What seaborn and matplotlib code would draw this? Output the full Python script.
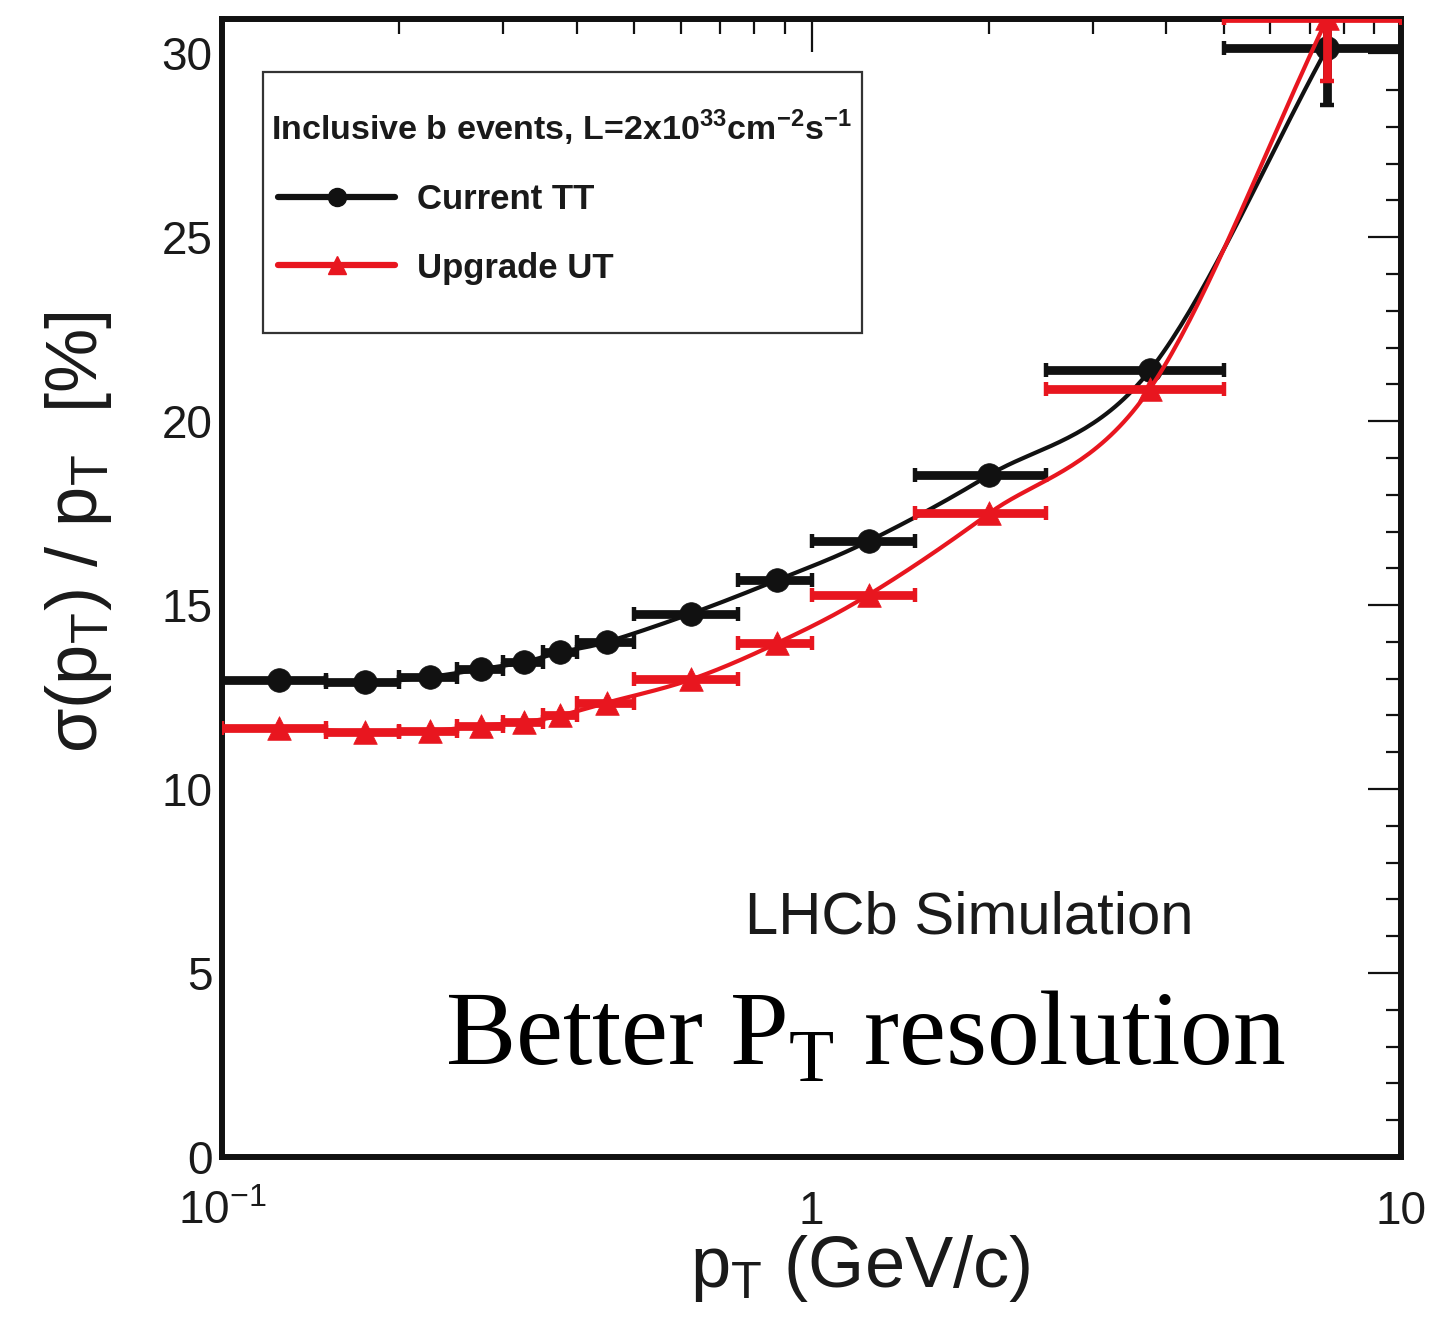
import numpy as np
import pandas as pd
import matplotlib
matplotlib.use("Agg")
import matplotlib.pyplot as plt
import seaborn as sns
from matplotlib.ticker import LogLocator, FixedLocator, FixedFormatter, MultipleLocator, NullFormatter
from matplotlib.lines import Line2D
from matplotlib.patches import Rectangle

# ---------------- data ----------------
bin_lo = [0.10, 0.15, 0.20, 0.25, 0.30, 0.35, 0.40, 0.50, 0.75, 1.0, 1.5, 2.5, 5.0]
bin_hi = [0.15, 0.20, 0.25, 0.30, 0.35, 0.40, 0.50, 0.75, 1.0, 1.5, 2.5, 5.0, 10.0]
pt_center = [0.125, 0.175, 0.225, 0.275, 0.325, 0.375, 0.45, 0.625, 0.875, 1.25, 2.0, 3.75, 7.5]
current_tt = [12.97, 12.90, 13.05, 13.26, 13.45, 13.72, 14.00, 14.77, 15.68, 16.74, 18.53, 21.38, 30.15]
current_err = [0, 0, 0, 0, 0, 0, 0, 0, 0, 0, 0, 0, 1.55]
upgrade_ut = [11.67, 11.55, 11.58, 11.72, 11.82, 12.00, 12.35, 12.98, 13.97, 15.28, 17.49, 20.88, 30.95]
upgrade_err = [0, 0, 0, 0, 0, 0, 0, 0, 0, 0, 0, 0, 1.7]

series_names = ["Current TT", "Upgrade UT"]
header = r"Inclusive b events, L=2x10$^{\mathregular{33}}$cm$^{\mathregular{-2}}$s$^{\mathregular{-1}}$"
x_ticks = [0.1, 1, 10]
x_ticklabels = [r"$\mathregular{10^{-1}}$", "1", "10"]

# ---------------- style ----------------
sns.set_style("white")
plt.rcParams["font.family"] = ["Liberation Sans", "DejaVu Sans"]
TXT = "#1a1a1a"
RED = "#e8161f"
BLACK = "#111111"


def smooth_curve(x, y, n=40):
    """Catmull-Rom rendering of the line through the points (log-x space)."""
    P = np.column_stack([np.log10(np.asarray(x, float)), np.asarray(y, float)])
    P = np.vstack([2 * P[0] - P[1], P, 2 * P[-1] - P[-2]])
    t = np.linspace(0, 1, n)[:, None]
    out = []
    for i in range(1, len(P) - 2):
        p0, p1, p2, p3 = P[i - 1], P[i], P[i + 1], P[i + 2]
        seg = 0.5 * ((2 * p1) + (-p0 + p2) * t + (2 * p0 - 5 * p1 + 4 * p2 - p3) * t ** 2
                     + (-p0 + 3 * p1 - 3 * p2 + p3) * t ** 3)
        out.append(seg if i == 1 else seg[1:])
    S = np.vstack(out)
    return 10 ** S[:, 0], S[:, 1]


fig = plt.figure(figsize=(14.34, 13.23), dpi=100)
ax = fig.add_axes([222 / 1434, 1 - 1157 / 1323, 1179 / 1434, 1138 / 1323])
ax.set_xscale("log")
ax.set_xlim(0.1, 10)
ax.set_ylim(0, 30.93)

xc = np.array(pt_center)
xerr_lo = xc - np.array(bin_lo)
xerr_hi = np.array(bin_hi) - xc

for vals, errs, col, mk, z in [
    (current_tt, current_err, BLACK, "o", 3),
    (upgrade_ut, upgrade_err, RED, "^", 4),
]:
    ax.errorbar(xc, vals, xerr=[xerr_lo, xerr_hi], yerr=errs, fmt="none",
                ecolor=col, elinewidth=6.3, capsize=5, capthick=3.2, zorder=z)
    sx, sy = smooth_curve(xc, vals)
    df_line = pd.DataFrame({"pt": sx, "res": sy})
    sns.lineplot(data=df_line, x="pt", y="res", sort=False, estimator=None,
                 color=col, linewidth=3.0, ax=ax, zorder=z + 0.1)
    df_pts = pd.DataFrame({"pt": xc, "res": vals})
    sns.scatterplot(data=df_pts, x="pt", y="res", marker=mk, s=290, color=col,
                    edgecolor=col, linewidth=0.5, ax=ax, zorder=z + 0.2)

# ---------------- axes ----------------
ax.xaxis.set_major_locator(FixedLocator(x_ticks))
ax.xaxis.set_major_formatter(FixedFormatter(x_ticklabels))
ax.xaxis.set_minor_locator(LogLocator(base=10, subs=np.arange(2, 10)))
ax.xaxis.set_minor_formatter(NullFormatter())
ax.yaxis.set_major_locator(MultipleLocator(5))
ax.yaxis.set_minor_locator(MultipleLocator(1))

ax.tick_params(which="both", direction="in", top=True, right=True, color=BLACK,
               width=1.6, labelcolor=TXT, labelsize=33)
ax.tick_params(which="major", length=24)
ax.tick_params(which="minor", length=10.5)
ax.tick_params(axis="y", pad=7)
ax.tick_params(axis="x", pad=48)
for lab in ax.get_xticklabels():
    lab.set_verticalalignment("baseline")

for sp in ax.spines.values():
    sp.set_linewidth(4.3)
    sp.set_color(BLACK)
    sp.set_visible(True)

ax.set_xlabel(r"p$_{\mathregular{T}}$ (GeV/c)", fontsize=52, color=TXT)
ax.xaxis.set_label_coords(0.541, -0.098)
ax.xaxis.label.set_verticalalignment("center")
ax.set_ylabel(r"σ(p$_{\mathregular{T}}$) / p$_{\mathregular{T}}$  [%]", fontsize=52, color=TXT)
ax.yaxis.set_label_coords(-0.122, 0.549)
ax.yaxis.label.set_verticalalignment("center")

# ---------------- legend ----------------
frame = Rectangle((0.0348, 0.724), 0.5082, 0.2294, transform=ax.transAxes,
                  facecolor="white", edgecolor="#333333", linewidth=1.6, zorder=9)
ax.add_patch(frame)
ax.text(0.0416, 0.8937, header, transform=ax.transAxes, fontsize=24.5, weight="bold",
        color=TXT, ha="left", va="baseline", zorder=11)
handles = [Line2D([], [], color=BLACK, lw=4.5, marker="o", ms=13),
           Line2D([], [], color=RED, lw=4.5, marker="^", ms=13)]
leg = ax.legend(handles, series_names, loc="upper left",
                bbox_to_anchor=(0.0475, 0.8557), borderaxespad=0, borderpad=0,
                frameon=False, prop={"weight": "bold", "size": 25},
                handlelength=3.37, handletextpad=0.63, labelspacing=1.02)
for t in leg.get_texts():
    t.set_color(TXT)
leg.set_zorder(10)

# ---------------- annotations ----------------
ax.text(0.4436, 0.196, "LHCb Simulation", transform=ax.transAxes, fontsize=43,
        color=TXT, ha="left", va="baseline")
ax.text(0.189, 0.081, r"Better P$_{\mathregular{T}}$ resolution", transform=ax.transAxes,
        fontsize=76, color="black", ha="left", va="baseline", family="Liberation Serif")

fig.savefig("out.png", dpi=100)
